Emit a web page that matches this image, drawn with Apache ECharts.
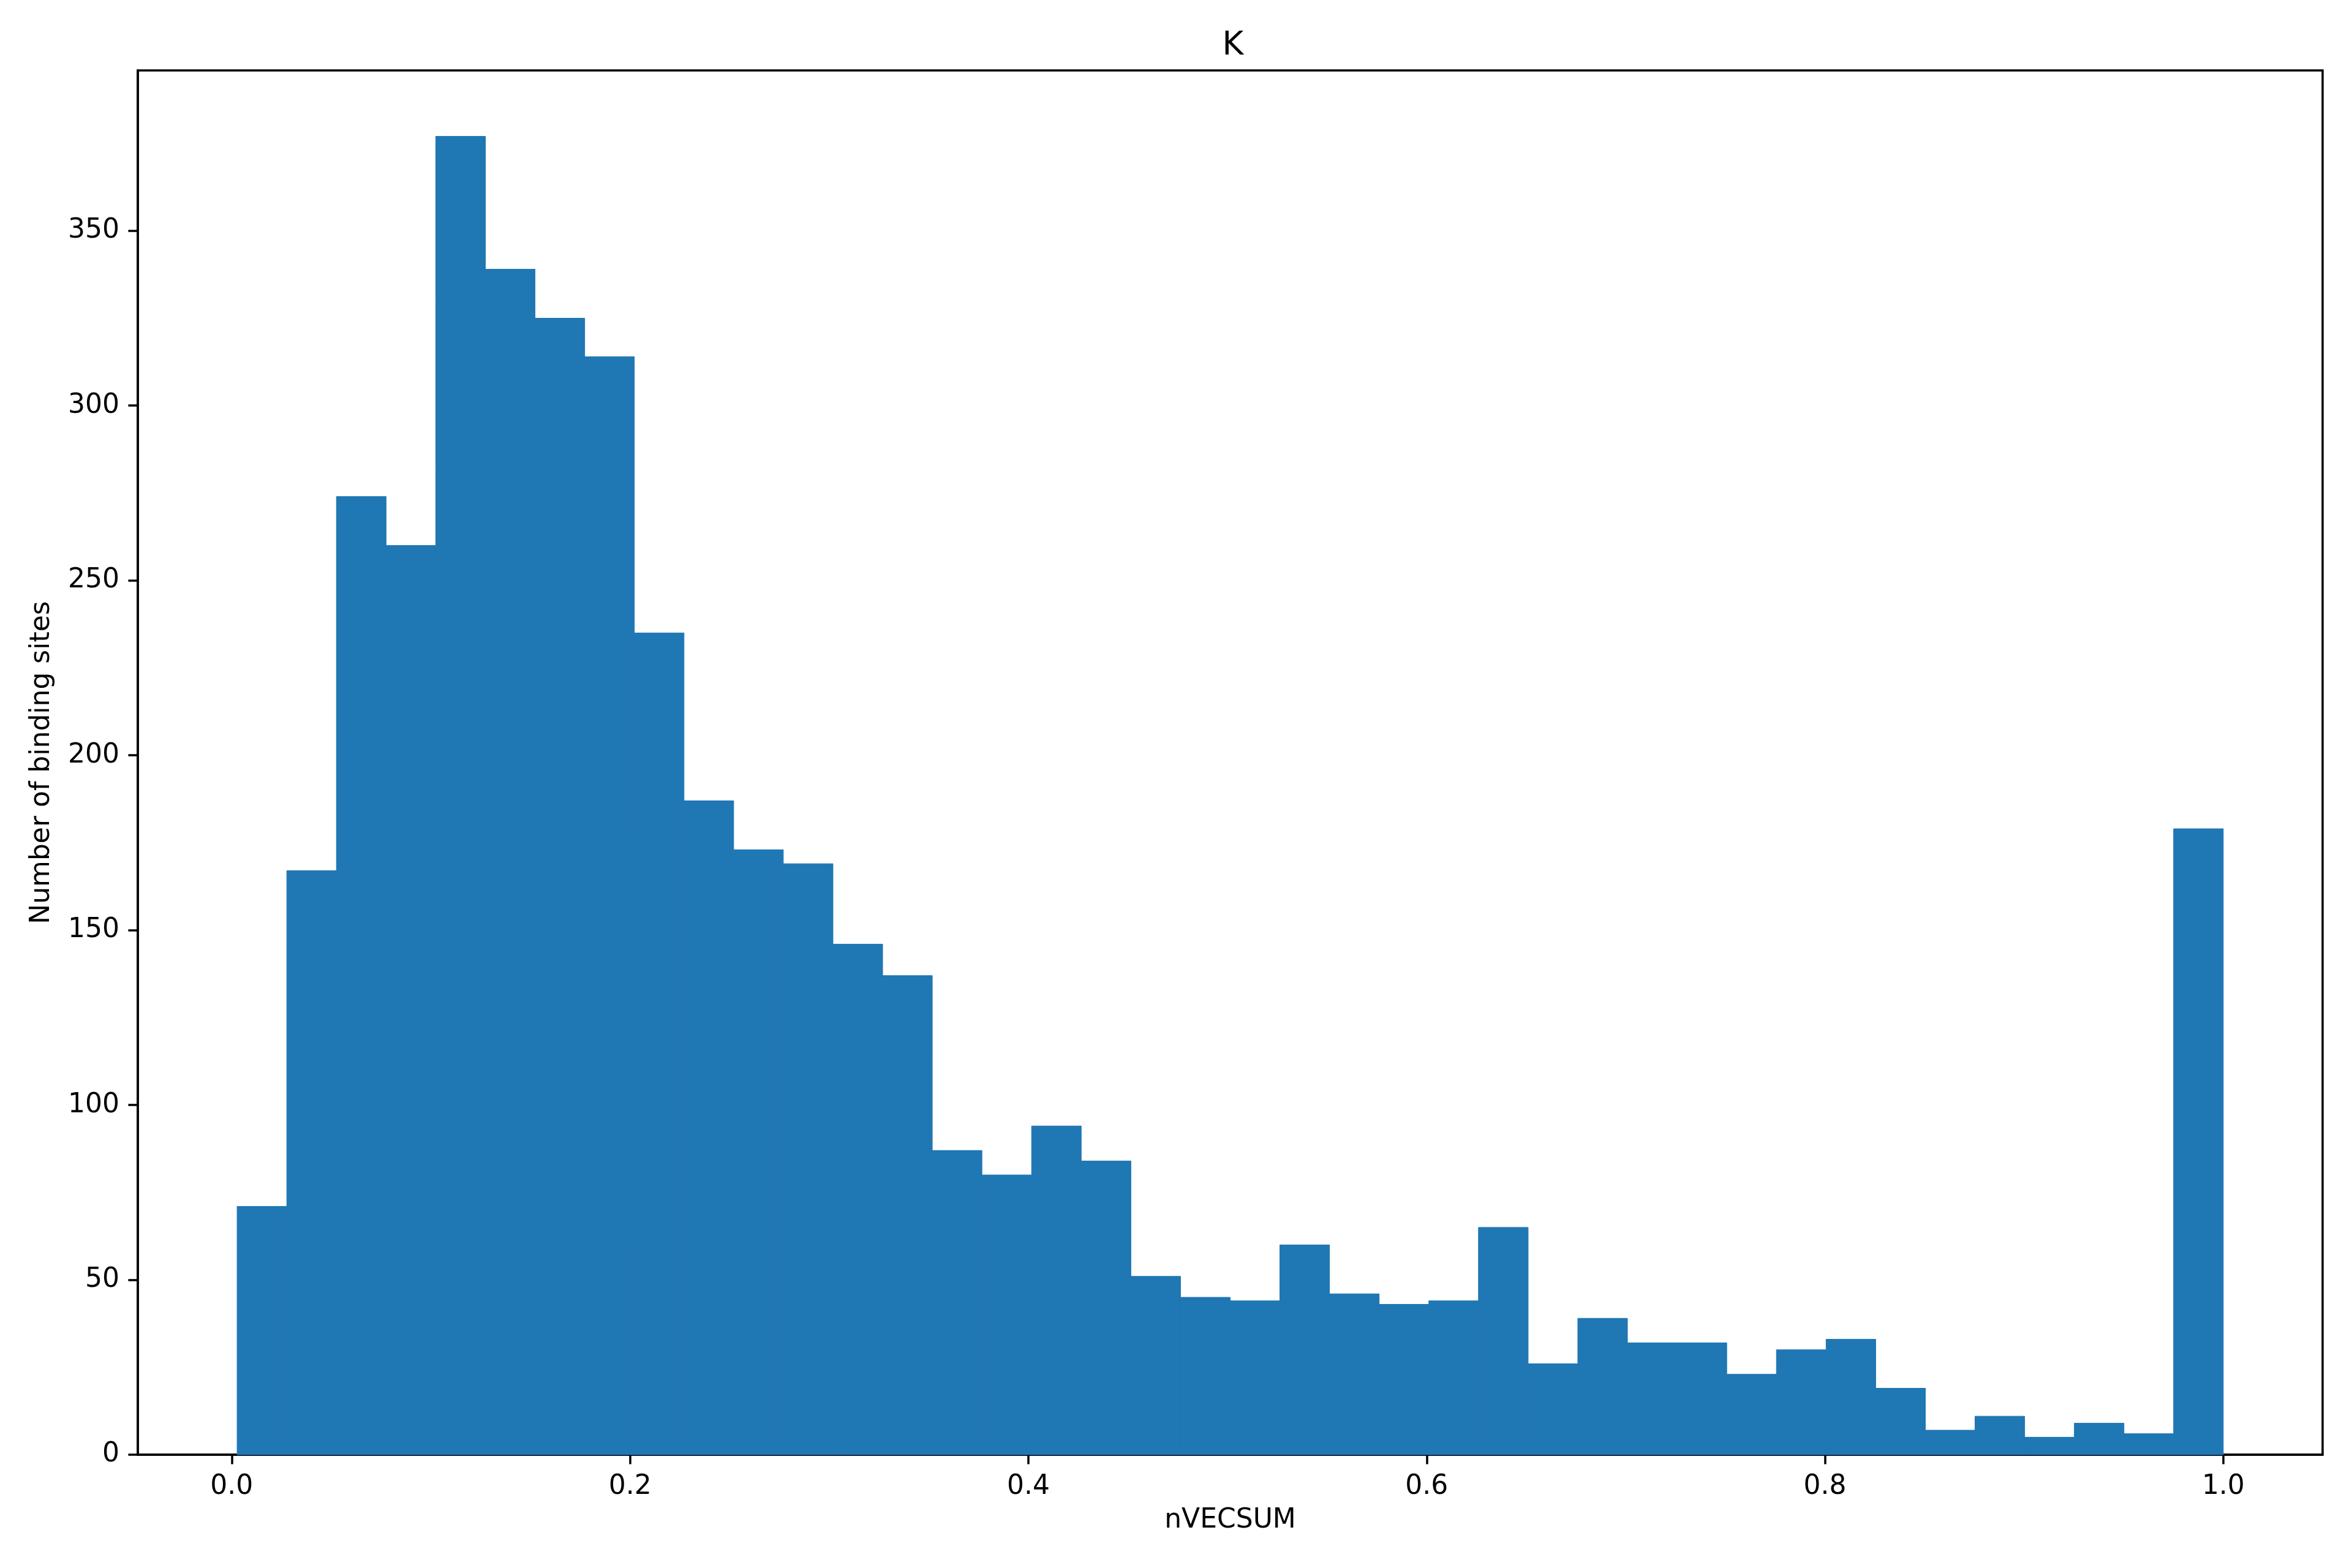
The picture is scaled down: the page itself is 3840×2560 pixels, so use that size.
<!DOCTYPE html>
<html>
<head>
<meta charset="utf-8">
<script src="https://cdn.jsdelivr.net/npm/echarts@6/dist/echarts.min.js"></script>
<style>
html,body{margin:0;padding:0;background:#fff;}
#chart{width:3840px;height:2560px;}
</style>
</head>
<body>
<div id="chart"></div>
<script>
// Histogram of nVECSUM values (40 bins)
const binStart = 0.0027;
const binEnd = 1.0;
const counts = [71, 167, 274, 260, 377, 339, 325, 314, 235, 187,
                173, 169, 146, 137, 87, 80, 94, 84, 51, 45,
                44, 60, 46, 43, 44, 65, 26, 39, 32, 32,
                23, 30, 33, 19, 7, 11, 5, 9, 6, 179];
const xTicks = [0.0, 0.2, 0.4, 0.6, 0.8, 1.0];
const yTicks = [0, 50, 100, 150, 200, 250, 300, 350];
const titleText = 'K';
const xName = 'nVECSUM';
const yName = 'Number of binding sites';

const binWidth = (binEnd - binStart) / counts.length;
const data = counts.map((c, i) => [binStart + i * binWidth, binStart + (i + 1) * binWidth, c]);
const span = binEnd - binStart;
const xMin = binStart - 0.05 * span, xMax = binEnd + 0.05 * span;
const yMax = Math.max(...counts) * 1.05;

const chart = echarts.init(document.getElementById('chart'), null, {renderer: 'canvas'});
const font = 'DejaVu Sans';
chart.setOption({
  animation: false,
  backgroundColor: '#ffffff',
  title: {
    text: titleText,
    left: 2008, top: 44, textAlign: 'center',
    textStyle: {fontFamily: font, fontSize: 53, fontWeight: 'normal', color: '#000'}
  },
  grid: {
    left: 225, right: 48, top: 115, bottom: 185,
    show: true, borderColor: '#000', borderWidth: 3.5, backgroundColor: 'transparent'
  },
  xAxis: {
    type: 'value', min: xMin, max: xMax,
    name: xName, nameLocation: 'middle', nameGap: 86,
    nameTextStyle: {fontFamily: font, fontSize: 44, color: '#000'},
    axisLine: {show: true, onZero: false, lineStyle: {color: '#000', width: 3.5}},
    axisTick: {show: true, length: 15.6, lineStyle: {color: '#000', width: 3.5}, customValues: xTicks},
    axisLabel: {fontFamily: font, fontSize: 44, color: '#000', margin: 31, customValues: xTicks,
      formatter: v => v.toFixed(1)},
    splitLine: {show: false}
  },
  yAxis: {
    type: 'value', min: 0, max: yMax,
    name: yName, nameLocation: 'middle', nameGap: 134, nameRotate: 90,
    nameTextStyle: {fontFamily: font, fontSize: 44, color: '#000'},
    axisLine: {show: true, onZero: false, lineStyle: {color: '#000', width: 3.5}},
    axisTick: {show: true, length: 15.6, lineStyle: {color: '#000', width: 3.5}, customValues: yTicks},
    axisLabel: {fontFamily: font, fontSize: 44, color: '#000', margin: 30, customValues: yTicks,
      formatter: v => String(v)},
    splitLine: {show: false}
  },
  series: [{
    type: 'custom',
    data: data,
    encode: {x: [0, 1], y: 2},
    renderItem: function (params, api) {
      const p0 = api.coord([api.value(0), api.value(2)]);
      const p1 = api.coord([api.value(1), 0]);
      return {
        type: 'rect',
        shape: {x: p0[0], y: p0[1], width: p1[0] - p0[0], height: p1[1] - p0[1]},
        style: {fill: '#1f77b4', stroke: '#1f77b4', lineWidth: 1}
      };
    }
  }]
});
</script>
</body>
</html>
